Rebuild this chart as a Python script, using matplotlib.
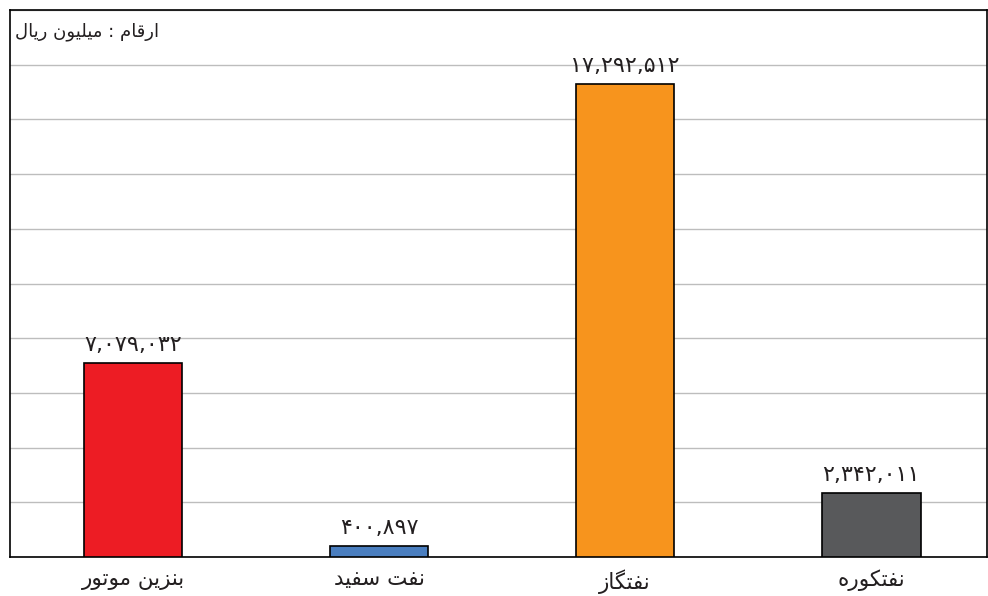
import matplotlib
matplotlib.use("Agg")
import matplotlib.pyplot as plt

# data
categories = ["بنزین موتور", "نفت سفید", "نفتگاز", "نفتکوره"]
values = [7079032, 400897, 17292512, 2342011]
colors = ["#ED1C24", "#4A7EBF", "#F7941D", "#58595B"]
unit_note = "ارقام : میلیون ریال"

# minimal Persian shaping (matplotlib has no bidi / joining support)
FORMS = {
    "ا": ("\uFE8D", "\uFE8E"), "ر": ("\uFEAD", "\uFEAE"), "ز": ("\uFEAF", "\uFEB0"),
    "د": ("\uFEA9", "\uFEAA"), "و": ("\uFEED", "\uFEEE"),
    "ق": ("\uFED5", "\uFED6", "\uFED7", "\uFED8"), "م": ("\uFEE1", "\uFEE2", "\uFEE3", "\uFEE4"),
    "ی": ("\uFBFC", "\uFBFD", "\uFEF3", "\uFEF4"), "ل": ("\uFEDD", "\uFEDE", "\uFEDF", "\uFEE0"),
    "ن": ("\uFEE5", "\uFEE6", "\uFEE7", "\uFEE8"), "ب": ("\uFE8F", "\uFE90", "\uFE91", "\uFE92"),
    "ت": ("\uFE95", "\uFE96", "\uFE97", "\uFE98"), "س": ("\uFEB1", "\uFEB2", "\uFEB3", "\uFEB4"),
    "ف": ("\uFED1", "\uFED2", "\uFED3", "\uFED4"), "گ": ("\uFB92", "\uFB93", "\uFB94", "\uFB95"),
    "ک": ("\uFB8E", "\uFB8F", "\uFB90", "\uFB91"), "ه": ("\uFEE9", "\uFEEA", "\uFEEB", "\uFEEC"),
}


def shape(text):
    out = []
    for i, ch in enumerate(text):
        if ch not in FORMS:
            out.append(ch)
            continue
        f = FORMS[ch]
        prev = text[i - 1] if i > 0 else ""
        nxt = text[i + 1] if i + 1 < len(text) else ""
        jp = prev in FORMS and len(FORMS[prev]) == 4
        jn = len(f) == 4 and nxt in FORMS
        if jp and jn:
            out.append(f[3])
        elif jp:
            out.append(f[1])
        elif jn:
            out.append(f[2])
        else:
            out.append(f[0])
    return "".join(reversed(out))


def fa_num(v):
    return f"{v:,}".translate(str.maketrans("0123456789", "۰۱۲۳۴۵۶۷۸۹"))


plt.rcParams['font.family'] = ['DejaVu Sans']

fig = plt.figure(figsize=(9.88, 5.96), dpi=100)
ax = fig.add_axes([10 / 988, 39 / 596, 977 / 988, 547 / 596])

x = list(range(len(categories)))
ax.bar(x, values, width=0.4, color=colors, edgecolor="black", linewidth=1.2, zorder=3)

for xi, v in zip(x, values):
    ax.text(xi, v + 300000, fa_num(v), ha="center", va="bottom", fontsize=16, color="#231F20")

ax.set_xlim(-0.5, 3.47)
ax.set_ylim(0, 20000000)
ax.set_yticks(range(0, 20000001, 2000000))
ax.yaxis.grid(True, color="#BDBDBD", linewidth=1, zorder=0)
ax.tick_params(axis="y", length=0, labelleft=False)
ax.tick_params(axis="x", length=0, pad=9)
ax.set_xticks(x)
ax.set_xticklabels([shape(c) for c in categories], fontsize=15.5, color="#231F20")

for s in ax.spines.values():
    s.set_color("black")
    s.set_linewidth(1.2)

ax.text(0.005, 0.96, shape(unit_note), transform=ax.transAxes, ha="left", va="center",
        fontsize=13, color="#231F20")

fig.savefig("out.png", dpi=100)
